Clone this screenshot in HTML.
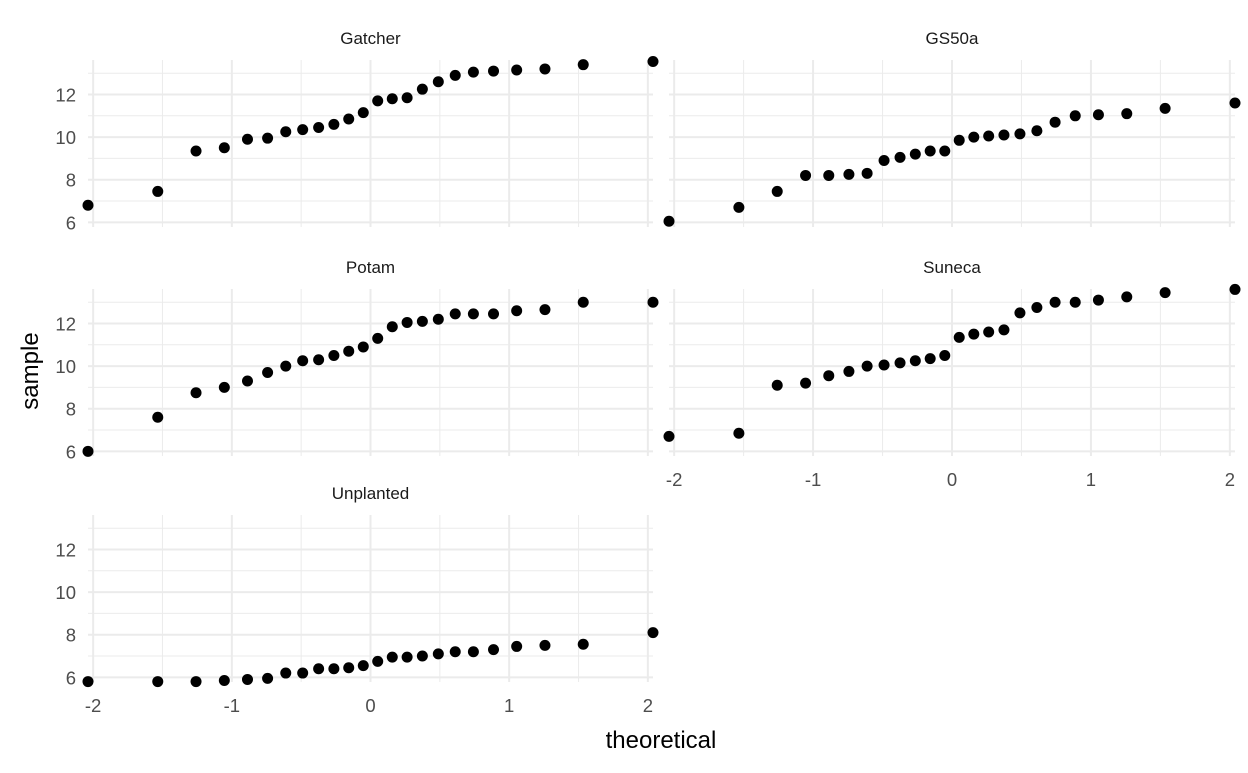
<!DOCTYPE html>
<html><head><meta charset="utf-8"><style>
html,body{margin:0;padding:0;background:#fff;}
svg text{font-family:"Liberation Sans",Arial,sans-serif;}
</style></head><body>
<svg id="chart" width="1248" height="768" xmlns="http://www.w3.org/2000/svg"></svg>
<script>
const facetNames = ["Gatcher","GS50a","Potam","Suneca","Unplanted"];
const theoretical = [-2.037,-1.534,-1.258,-1.054,-0.887,-0.742,-0.611,-0.489,-0.374,-0.264,-0.157,-0.052,0.052,0.157,0.264,0.374,0.489,0.611,0.742,0.887,1.054,1.258,1.534,2.037];
const gatcher = [6.8,7.45,9.35,9.5,9.9,9.95,10.25,10.35,10.45,10.6,10.85,11.15,11.7,11.8,11.85,12.25,12.6,12.9,13.05,13.1,13.15,13.2,13.4,13.55];
const gs50a = [6.05,6.7,7.45,8.2,8.2,8.25,8.3,8.9,9.05,9.2,9.35,9.35,9.85,10.0,10.05,10.1,10.15,10.3,10.7,11.0,11.05,11.1,11.35,11.6];
const potam = [6.0,7.6,8.75,9.0,9.3,9.7,10.0,10.25,10.3,10.5,10.7,10.9,11.3,11.85,12.05,12.1,12.2,12.45,12.45,12.45,12.6,12.65,13.0,13.0];
const suneca = [6.7,6.85,9.1,9.2,9.55,9.75,10.0,10.05,10.15,10.25,10.35,10.5,11.35,11.5,11.6,11.7,12.5,12.75,13.0,13.0,13.1,13.25,13.45,13.6];
const unplanted = [5.8,5.8,5.8,5.85,5.9,5.95,6.2,6.2,6.4,6.4,6.45,6.55,6.75,6.95,6.95,7.0,7.1,7.2,7.2,7.3,7.45,7.5,7.55,8.1];
const xTicks = [-2,-1,0,1,2];
const yTicks = [6,8,10,12];
const seriesList = [gatcher,gs50a,potam,suneca,unplanted];

const svg = document.getElementById('chart');
const NS = 'http://www.w3.org/2000/svg';
function mk(tag, attrs, parent){const e=document.createElementNS(NS,tag);for(const k in attrs)e.setAttribute(k,attrs[k]);(parent||svg).appendChild(e);return e;}

const xMin=-2.037, xMax=2.037;
const allY=[].concat(...seriesList);
const yMin=Math.min(...allY)-0.02, yMax=Math.max(...allY)+0.02;
const panels=[
 {x0:88,x1:653,y0:60,y1:227,xl:false,yl:true},
 {x0:669,x1:1235,y0:60,y1:227,xl:false,yl:false},
 {x0:88,x1:653,y0:289,y1:456,xl:false,yl:true},
 {x0:669,x1:1235,y0:289,y1:456,xl:true,yl:false},
 {x0:88,x1:653,y0:515,y1:682,xl:true,yl:true}
];
panels.forEach((p,i)=>{
  const sx=v=>p.x0+(v-xMin)/(xMax-xMin)*(p.x1-p.x0);
  const sy=v=>p.y1-(v-yMin)/(yMax-yMin)*(p.y1-p.y0);
  const g=mk('g',{});
  
  
  [-1.5,-0.5,0.5,1.5].forEach(v=>mk('line',{x1:sx(v),x2:sx(v),y1:p.y0,y2:p.y1,stroke:'#ebebeb','stroke-width':1},g));
  [7,9,11,13].forEach(v=>mk('line',{x1:p.x0,x2:p.x1,y1:sy(v),y2:sy(v),stroke:'#ebebeb','stroke-width':1},g));
  xTicks.forEach(v=>mk('line',{x1:sx(v),x2:sx(v),y1:p.y0,y2:p.y1,stroke:'#ebebeb','stroke-width':2},g));
  yTicks.forEach(v=>mk('line',{x1:p.x0,x2:p.x1,y1:sy(v),y2:sy(v),stroke:'#ebebeb','stroke-width':2},g));
  const st=mk('text',{x:(p.x0+p.x1)/2,y:p.y0-16,'text-anchor':'middle','font-size':17,fill:'#1a1a1a'},g);
  st.textContent=facetNames[i];
  
  
  if(p.yl) yTicks.forEach(v=>{const t=mk('text',{x:p.x0-12,y:sy(v)+7,'text-anchor':'end','font-size':18.5,fill:'#4d4d4d'},g);t.textContent=v;
    
    });
  if(p.xl) xTicks.forEach(v=>{const t=mk('text',{x:sx(v),y:p.y1+30,'text-anchor':'middle','font-size':18.5,fill:'#4d4d4d'},g);t.textContent=v;
    
    });
  seriesList[i].forEach((v,j)=>{const c=mk('circle',{cx:sx(theoretical[j]),cy:sy(v),r:5.5,fill:'#000'},g);
    
    });
});
const xt=mk('text',{x:661,y:748,'text-anchor':'middle','font-size':24,fill:'#000'});
xt.textContent='theoretical';


const yt=mk('text',{x:0,y:0,'text-anchor':'middle','font-size':24,fill:'#000',transform:'translate(38,371) rotate(-90)'});
yt.textContent='sample';


</script>
</body></html>
